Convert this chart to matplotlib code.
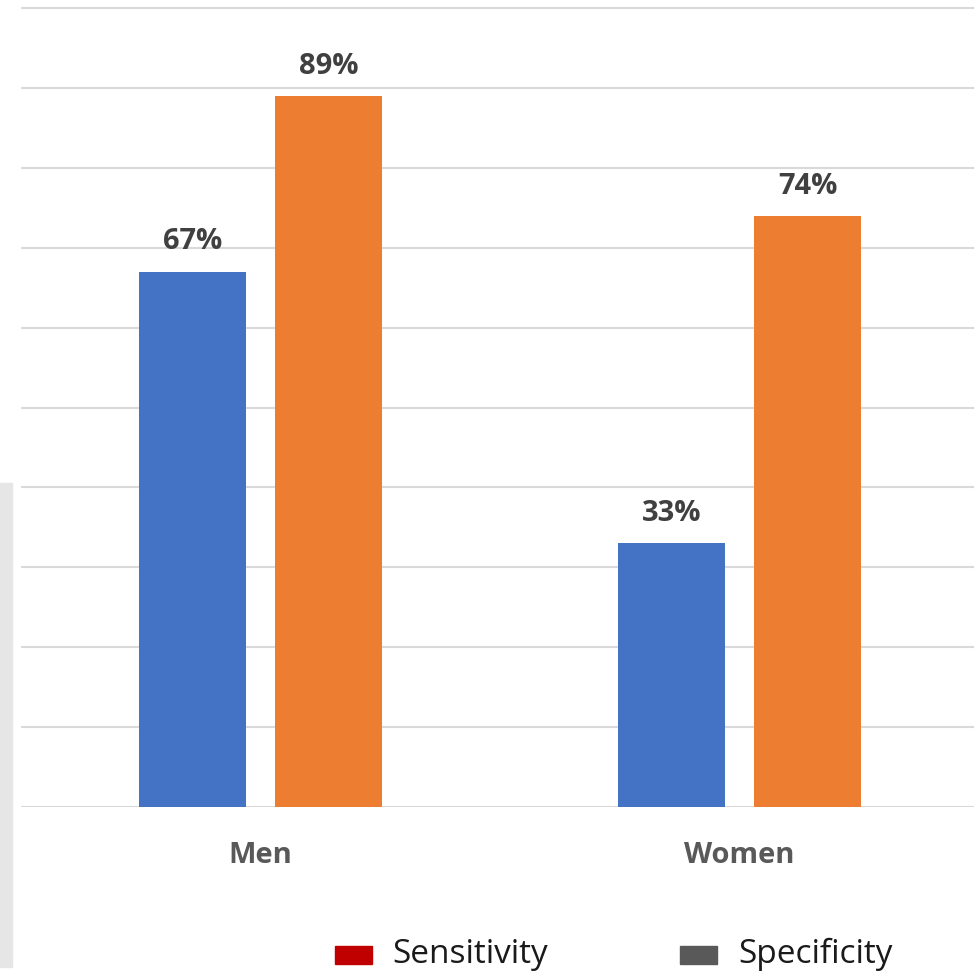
import numpy as np
import matplotlib.pyplot as plt
from matplotlib.patches import Rectangle

groups = ["Men", "Women"]
series_a = [67, 33]
series_b = [89, 74]
legend_names = ["Sensitivity", "Specificity"]

blue = "#4472C4"
orange = "#ED7D31"
legend_colors = ["#C00000", "#595959"]

plt.rcParams['font.family'] = ['Open Sans', 'DejaVu Sans']

W, H = 974, 973
fig = plt.figure(figsize=(W / 100, H / 100), dpi=100)
fig.patch.set_facecolor("white")

# grey strip on the left edge
fig.patches.append(Rectangle((0, (H - 967) / H), 12 / W, (967 - 483) / H,
                             transform=fig.transFigure, color="#e6e6e6", zorder=0))

ppu = (807 - 8) / 100.0  # pixels per percent
ytop = 102
ax = fig.add_axes([21 / W, (H - 807) / H, (W - 21) / W, ytop * ppu / H])

x = np.arange(len(groups))
bw = 107 / 479
off = 68 / 479
b1 = ax.bar(x - off, series_a, bw, color=blue, zorder=2)
b2 = ax.bar(x + off, series_b, bw, color=orange, zorder=2)

for bars, vals in [(b1, series_a), (b2, series_b)]:
    for r, v in zip(bars, vals):
        ax.annotate(f"{v}%", (r.get_x() + r.get_width() / 2, v), xytext=(0, 16),
                    textcoords="offset points", ha="center", va="baseline",
                    fontsize=21, fontweight="bold", color="#404040")

ax.set_xlim(-0.5, (W - 260.5) / 479)
ax.set_ylim(0, ytop)
ax.set_yticks(np.arange(0, 101, 10))
ax.yaxis.grid(True, color="#d9d9d9", linewidth=1.5)
ax.set_axisbelow(True)
ax.tick_params(axis="y", left=False, labelleft=False)
ax.tick_params(axis="x", bottom=False, pad=21)
ax.set_xticks(x)
ax.set_xticklabels(groups, fontsize=21, fontweight="bold", color="#595959")
for s in ax.spines.values():
    s.set_visible(False)
ax.set_facecolor("none")

# legend at the bottom edge
sw_x = [335, 680]
tx_x = [392, 738]
for sx, txx, name, c in zip(sw_x, tx_x, legend_names, legend_colors):
    fig.patches.append(Rectangle((sx / W, (H - 964) / H), 37 / W, 18 / H,
                                 transform=fig.transFigure, color=c))
    fig.text(txx / W, (H - 963) / H, name, fontsize=24, color="#1a1a1a",
             ha="left", va="baseline")

fig.savefig("out.png", dpi=100)
